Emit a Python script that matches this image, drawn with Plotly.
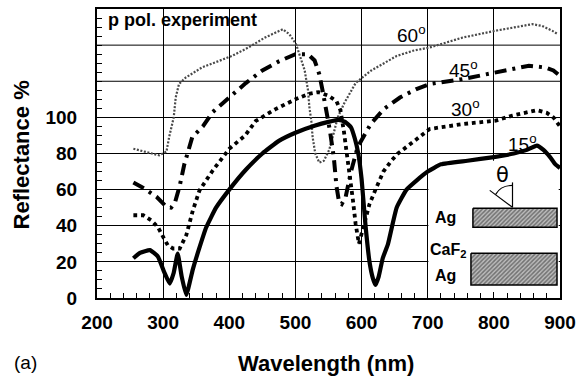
import plotly.graph_objects as go

# ---------------- data ----------------
x15 = [255, 265, 280, 292, 302, 310, 316, 322, 328, 335, 345, 355, 365, 380, 400, 425, 450,
       475, 500, 530, 550, 565, 575, 584, 590, 595, 600, 606, 612, 617, 621, 626,
       632, 640, 653, 668, 683, 700, 720, 760, 800, 830, 850, 865, 875, 885, 893, 900]
y15 = [22, 25, 26.5, 23, 14, 8, 14, 24.6, 12, 1.7, 16, 28, 39, 50, 60, 71, 80,
       87, 91.5, 95.5, 97.5, 98.6, 97.5, 94.5, 88, 80, 66, 40, 20, 11, 7.2, 12,
       22, 30, 50, 60, 65, 70, 74, 76, 78, 80, 82, 84.4, 82, 78, 74, 72]

x30 = [255, 270, 282, 292, 300, 307, 315, 325, 335, 345, 355, 375, 400, 424, 440, 470, 500,
       520, 535, 550, 562, 568, 573, 578, 583, 587, 591, 596, 604, 612, 621, 633, 645, 655,
       680, 703, 753, 803, 828, 850, 865, 880, 890, 900]
y30 = [45.8, 45.8, 43, 39.3, 33.8, 29.2, 27.4, 27.4, 34.8, 48.6, 59.6, 70.6, 82.6, 90, 98,
       104.6, 110, 113, 114, 112, 109, 104, 93, 80, 67, 54, 41, 30, 41, 52, 60, 70, 76, 80,
       87, 93.6, 96.3, 98.2, 101, 103, 104, 102.5, 100, 95]

x45 = [255, 272, 290, 305, 312, 318, 325, 332, 344, 360, 375, 400, 425, 450, 475, 500, 519,
       529, 536, 541, 546, 552, 558, 562, 566, 570, 576, 584, 594, 614, 634, 658, 683, 703,
       753, 803, 853, 878, 890, 900]
y45 = [64, 60.5, 56, 50.4, 50, 53, 62, 74, 89, 95, 103, 111, 119, 126, 131, 135, 135,
       131.5, 124, 115, 106, 93, 78, 62, 53, 52, 56, 70, 83.5, 96.4, 104.7, 111, 115.7, 118.5,
       121.2, 124.9, 128.6, 127.6, 126, 123]

x60 = [255, 275, 294, 305, 309, 316, 319, 324, 334, 359, 379, 404, 429, 454, 481, 491, 501,
       506, 514, 519, 521, 524, 526, 530, 536, 543, 551, 557, 564, 574, 591, 614, 639, 653,
       679, 703, 753, 803, 858, 873, 888, 897]
y60 = [82.6, 80.8, 79, 81, 89, 100, 111, 118.5, 122, 127.7, 130.4, 134, 138.7, 144.2, 148.8,
       146, 140.5, 135, 126, 115, 106, 98, 89, 80, 75, 76, 82, 90, 100, 108, 119, 125.8,
       131.3, 134, 137, 138.7, 144.2, 148, 151.6, 150.6, 148, 146]

x_ticks = [200, 300, 400, 500, 600, 700, 800, 900]
y_ticks = [0, 20, 40, 60, 80, 100]
y_extra_grid = [120, 140]

angle_labels = ["15", "30", "45", "60"]

# ---------------- figure ----------------
SANS = "Liberation Sans, Arial, Helvetica, sans-serif"
fig = go.Figure()

fig.add_trace(go.Scatter(x=x60, y=y60, mode="lines", name="60",
                         line=dict(color="#4a4a4a", width=2.2, dash="2px,1.6px")))
fig.add_trace(go.Scatter(x=x45, y=y45, mode="lines", name="45",
                         line=dict(color="black", width=4, dash="12px,6px,3px,6px")))
fig.add_trace(go.Scatter(x=x30, y=y30, mode="lines", name="30",
                         line=dict(color="black", width=3.8, dash="dot")))
fig.add_trace(go.Scatter(x=x15, y=y15, mode="lines", name="15",
                         line=dict(color="black", width=4.2, shape="spline", smoothing=0.4)))

# ---------------- inset (sample sketch) ----------------
def px2x(px):
    return 200 + (px - 97) / 0.6686

def px2y(py):
    return (298 - py) / 1.8125

shapes = []
# grid lines above the labelled range
for gy in y_extra_grid:
    shapes.append(dict(type="line", xref="paper", yref="y", x0=0, x1=1, y0=gy, y1=gy,
                       line=dict(color="black", width=1), layer="below"))
# white panel covering the grid behind the inset
shapes.append(dict(type="rect", xref="x", yref="y", x0=701, x1=898, y0=0.5, y1=76,
                   fillcolor="white", line=dict(width=0), layer="between"))

# hatched slabs
for (l, t, r, b) in [(477, 208, 562, 227), (475, 253, 562, 285)]:
    xs = [px2x(l), px2x(r), px2x(r), px2x(l), px2x(l)]
    ys = [px2y(t), px2y(t), px2y(b), px2y(b), px2y(t)]
    fig.add_trace(go.Scatter(x=xs, y=ys, mode="lines", fill="toself",
                             fillcolor="#a0a0a0",
                             fillpattern=dict(shape="/", size=3, solidity=0.5,
                                              fgcolor="#262626", bgcolor="#bcbcbc"),
                             line=dict(color="black", width=1.5),
                             hoverinfo="skip", showlegend=False))

# angle indicator
shapes.append(dict(type="line", xref="x", yref="y", x0=px2x(517), x1=px2x(517),
                   y0=px2y(182), y1=px2y(207), line=dict(color="black", width=1.2)))
shapes.append(dict(type="line", xref="x", yref="y", x0=px2x(494), x1=px2x(517),
                   y0=px2y(190), y1=px2y(207), line=dict(color="black", width=1.2)))
shapes.append(dict(type="path", xref="x", yref="y",
                   path=f"M {px2x(500)},{px2y(194)} Q {px2x(505)},{px2y(185)} {px2x(517)},{px2y(185)}",
                   line=dict(color="black", width=1.2)))

annotations = []
def ann(text, x, y, size, bold=True, xanchor="center", yanchor="middle", family=SANS,
        xref="x", yref="y", angle=0):
    annotations.append(dict(text=text, x=x, y=y, xref=xref, yref=yref, showarrow=False,
                            xanchor=xanchor, yanchor=yanchor, textangle=angle,
                            font=dict(family=family, size=size, color="black",
                                      weight="bold" if bold else "normal")))

ann("p pol. experiment", px2x(106), px2y(19), 18, xanchor="left")
ann("Ag", px2x(449), px2y(217), 16)
ann("CaF<sub>2</sub>", px2x(452), px2y(250), 16)
ann("Ag", px2x(449), px2y(275), 16)
ann("θ", px2x(507), px2y(175), 21, bold=False, family="DejaVu Sans, sans-serif")

# angle labels
label_pos = {"60": (398, 33), "45": (451, 68), "30": (453, 107), "15": (510, 142)}
for lab in angle_labels:
    px, py = label_pos[lab]
    ann(lab + "<sup>o</sup>", px2x(px), px2y(py), 19, bold=False, xanchor="left")

# axis titles and panel tag
ann("Wavelength (nm)", 0.4936, -0.228, 22, xref="paper", yref="paper")
ann("Reflectance %", -0.163, 0.495, 22, xref="paper", yref="paper", angle=-90)
ann("(a)", -0.155, -0.222, 19, bold=False, xref="paper", yref="paper")

fig.update_layout(
    width=583, height=379,
    margin=dict(l=97, r=18, t=7, b=81),
    paper_bgcolor="white", plot_bgcolor="white",
    showlegend=False,
    shapes=shapes, annotations=annotations,
    font=dict(family=SANS, color="black"),
)

fig.update_xaxes(range=[200, 900], tickvals=x_ticks, ticks="inside", ticklen=6,
                 tickcolor="black", tickwidth=1, showgrid=True,
                 gridcolor="black", gridwidth=1, showline=True, linecolor="black",
                 linewidth=2, mirror=True, zeroline=False,
                 tickfont=dict(size=19, weight="bold", family=SANS),
                 ticklabelstandoff=6,
                 minor=dict(dtick=20, tick0=200, ticks="inside", ticklen=5,
                            tickcolor="black", tickwidth=1, showgrid=False))
fig.update_yaxes(range=[0, 160], tickvals=y_ticks, ticks="inside", ticklen=6,
                 tickcolor="black", tickwidth=1,
                 showgrid=True, gridcolor="black", gridwidth=1, showline=True,
                 linecolor="black", linewidth=2, mirror=True, zeroline=False,
                 tickfont=dict(size=19, weight="bold", family=SANS),
                 ticklabelstandoff=14,
                 minor=dict(dtick=5, tick0=0, ticks="inside", ticklen=5,
                            tickcolor="black", tickwidth=1, showgrid=False))

fig.write_html("out.html")
